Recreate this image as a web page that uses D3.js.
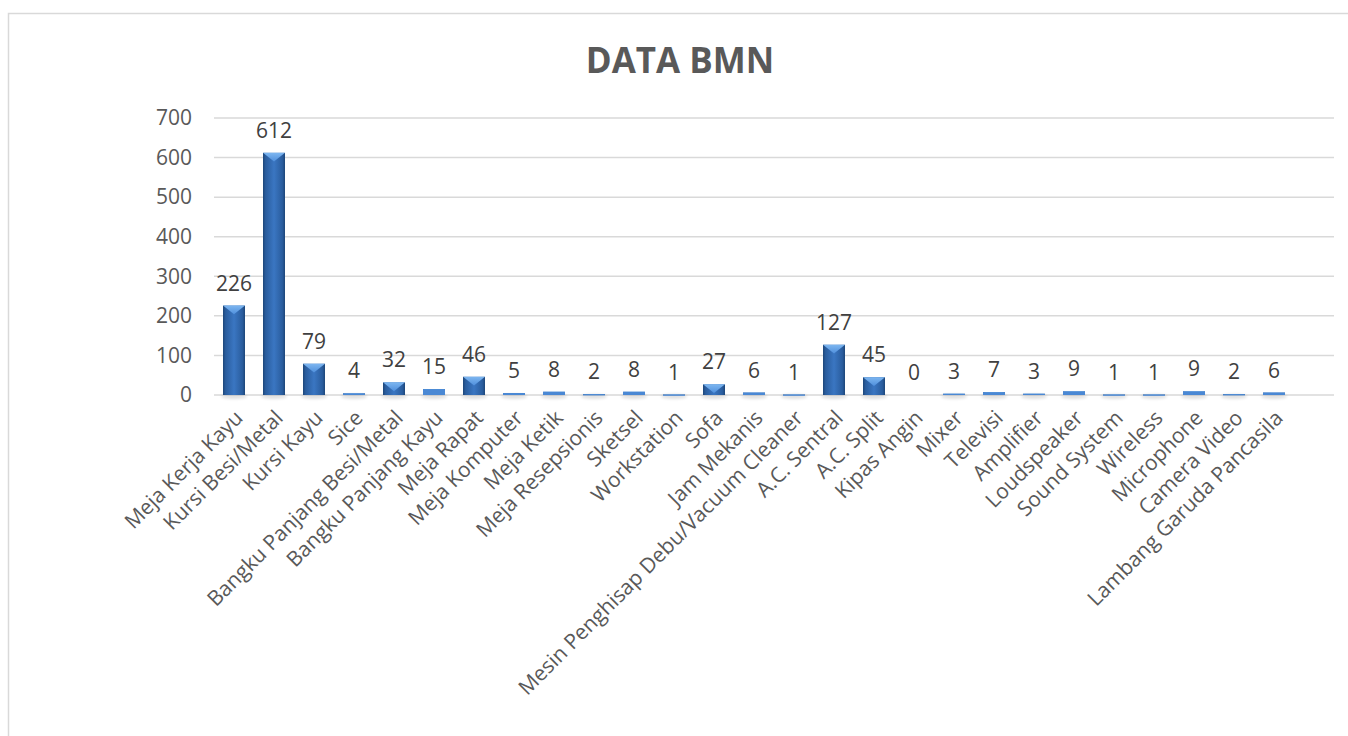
<!DOCTYPE html>
<html><head><meta charset="utf-8">
<script src="https://cdn.jsdelivr.net/npm/d3@7"></script>
<style>
html,body{margin:0;padding:0;background:#fff;}
svg{display:block;font-family:"Open Sans",sans-serif;}
</style></head>
<body><svg id="c" width="1348" height="736"></svg>
<script>
const categories = ["Meja Kerja Kayu","Kursi Besi/Metal","Kursi Kayu","Sice","Bangku Panjang Besi/Metal","Bangku Panjang Kayu","Meja Rapat","Meja Komputer","Meja Ketik","Meja Resepsionis","Sketsel","Workstation","Sofa","Jam Mekanis","Mesin Penghisap Debu/Vacuum Cleaner","A.C. Sentral","A.C. Split","Kipas Angin","Mixer","Televisi","Amplifier","Loudspeaker","Sound System","Wireless","Microphone","Camera Video","Lambang Garuda Pancasila"];
const values = [226,612,79,4,32,15,46,5,8,2,8,1,27,6,1,127,45,0,3,7,3,9,1,1,9,2,6];
const yTicks = [0,100,200,300,400,500,600,700];
const title = "DATA BMN";

const svg = d3.select("#c");
const defs = svg.append("defs");
const g1 = defs.append("linearGradient").attr("id","barGrad").attr("x1","0").attr("x2","1").attr("y1","0").attr("y2","0");
[["0%","#1d4679"],["12%","#2a5d9e"],["50%","#3a76c2"],["88%","#2a5d9e"],["100%","#1d4679"]].forEach(s=>g1.append("stop").attr("offset",s[0]).attr("stop-color",s[1]));
const g2 = defs.append("linearGradient").attr("id","topGrad").attr("x1","0").attr("x2","0").attr("y1","0").attr("y2","1");
[["0%","#7db6f0"],["100%","#4f8fdc"]].forEach(s=>g2.append("stop").attr("offset",s[0]).attr("stop-color",s[1]));
const f = defs.append("filter").attr("id","blur").attr("x","-50%").attr("y","-50%").attr("width","200%").attr("height","200%");
f.append("feGaussianBlur").attr("stdDeviation",1.5);

// chart border
svg.append("rect").attr("x",8.5).attr("y",13.5).attr("width",1400).attr("height",800)
  .attr("fill","none").attr("stroke","#d9d9d9").attr("stroke-width",1.5);

const x = d3.scaleBand().domain(categories).range([214,1294]).paddingInner(0.45).paddingOuter(0.225);
const y = d3.scaleLinear().domain([0,700]).range([395,118]);
const gridRight = 1334;

// gridlines
svg.append("g").selectAll("line").data(yTicks).join("line")
  .attr("x1",214).attr("x2",gridRight).attr("y1",d=>y(d)).attr("y2",d=>y(d))
  .attr("stroke","#d9d9d9").attr("stroke-width",1.5);

// y axis labels
const yAxis = svg.append("g").attr("transform","translate(214,0)")
  .call(d3.axisLeft(y).tickValues(yTicks).tickSize(0).tickPadding(22));
yAxis.select(".domain").remove();
yAxis.selectAll("text").attr("fill","#595959").style("font-size","21px").style("font-family","Open Sans");

// title
svg.append("text").attr("x",680).attr("y",73).attr("text-anchor","middle")
  .attr("fill","#595959").style("font-size","35px").style("font-weight","bold").text(title);

// bar shadows
const bw = x.bandwidth();
const data = categories.map((c,i)=>({c, v:values[i]}));
svg.append("g").selectAll("ellipse").data(data.filter(d=>d.v>0)).join("ellipse")
  .attr("cx",d=>x(d.c)+bw/2).attr("cy",y(0)+1.5).attr("rx",bw/2+2).attr("ry",2.5)
  .attr("fill","#000").attr("opacity",0.12).attr("filter","url(#blur)");

// bars
const bars = svg.append("g").selectAll("g").data(data.filter(d=>d.v>0)).join("g");
bars.append("rect").attr("x",d=>x(d.c)).attr("y",d=>y(d.v)).attr("width",bw)
  .attr("height",d=>y(0)-y(d.v)).attr("fill","url(#barGrad)");
bars.append("path").attr("d",d=>{
  const x0=x(d.c), x1=x0+bw, t=y(d.v), h=Math.min(bw*0.4, y(0)-y(d.v));
  return `M${x0},${t}L${x1},${t}L${x0+bw/2},${t+h}Z`;
}).attr("fill","url(#topGrad)");
bars.filter(d=>y(0)-y(d.v)<6).append("rect").attr("x",d=>x(d.c)).attr("y",d=>y(d.v)).attr("width",bw)
  .attr("height",d=>Math.max(1.2,y(0)-y(d.v))).attr("fill","#4a88d4");

// data labels
svg.append("g").selectAll("text").data(data).join("text")
  .attr("x",d=>x(d.c)+bw/2).attr("y",d=>y(d.v)-15).attr("text-anchor","middle")
  .attr("fill","#404040").style("font-size","21px").text(d=>d.v);

// x labels
svg.append("g").selectAll("text").data(categories).join("text")
  .attr("transform",d=>`translate(${x(d)+bw/2+5},${414}) rotate(-45)`)
  .attr("text-anchor","end").attr("dy","0.35em")
  .attr("fill","#595959").style("font-size","21px").text(d=>d);
</script></body></html>
